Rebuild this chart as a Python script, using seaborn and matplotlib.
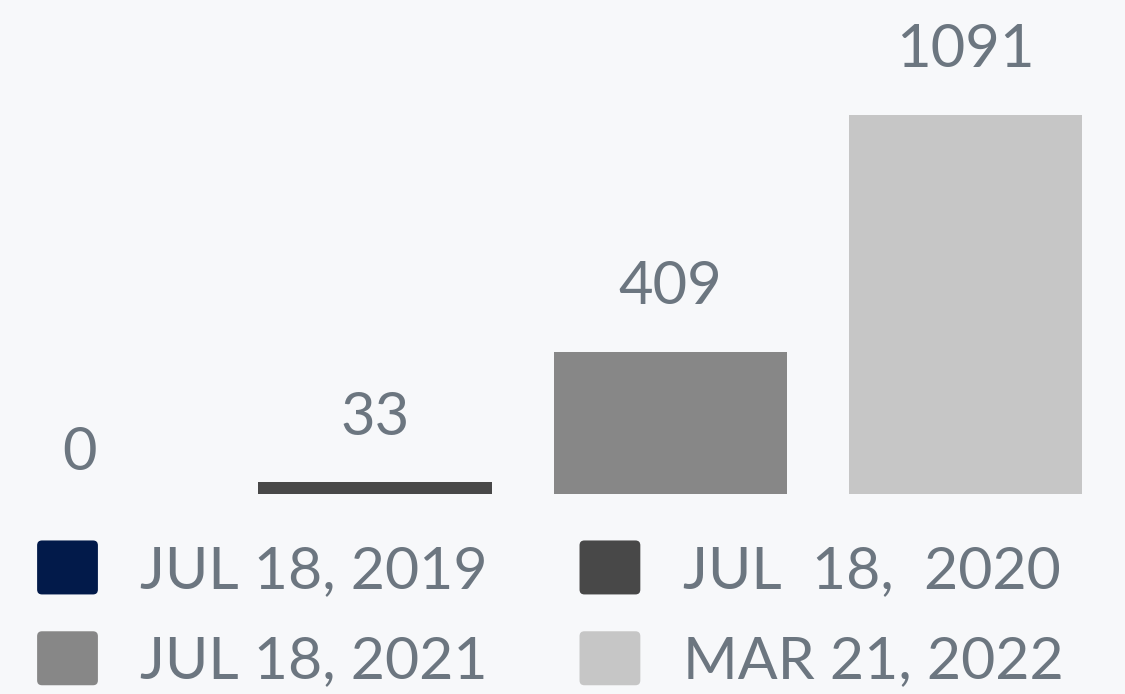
import matplotlib.pyplot as plt
import pandas as pd
import seaborn as sns
from matplotlib.legend_handler import HandlerPatch
from matplotlib.patches import FancyBboxPatch, Patch

dates = ["JUL 18, 2019", "JUL 18, 2020", "JUL 18, 2021", "MAR 21, 2022"]
legend_labels = ["JUL 18, 2019", "JUL  18,  2020", "JUL 18, 2021", "MAR 21, 2022"]
counts = [0, 33, 409, 1091]
bar_colors = ["#021a4a", "#484848", "#878787", "#c6c6c6"]

BG = "#f7f8fa"
TEXT = "#6c7680"


class RoundSquare(HandlerPatch):
    def create_artists(self, legend, orig_handle, xdescent, ydescent,
                       width, height, fontsize, trans):
        box = FancyBboxPatch(
            (-xdescent, -ydescent), width, height,
            boxstyle="round,pad=0,rounding_size=3.5",
            facecolor=orig_handle.get_facecolor(), edgecolor="none",
            transform=trans,
        )
        return [box]


sns.set_theme(style="white")
plt.rcParams["font.family"] = ["Lato", "DejaVu Sans"]

df = pd.DataFrame({"date": dates, "count": counts})

fig = plt.figure(figsize=(11.25, 6.94), dpi=100, facecolor=BG)
ax = fig.add_axes([0, 0, 1, 1])
ax.set_facecolor(BG)

sns.barplot(
    data=df, x="date", y="count", hue="date",
    palette=dict(zip(dates, bar_colors)), width=0.79,
    saturation=1, legend=False, linewidth=0, ax=ax,
)

for container, value in zip(ax.containers, counts):
    pad = 10 if value == 0 else 27
    ax.bar_label(container, labels=[f"{value}"], padding=pad,
                 fontsize=43, color=TEXT)

ax.set_xlim(-0.27, 3.54)
ax.set_ylim(-576, 1422)
ax.set_axis_off()

# legend reads row by row, matplotlib fills column by column
order = [0, 2, 1, 3]
handles = [Patch(facecolor=bar_colors[i]) for i in order]
labels = [legend_labels[i] for i in order]
ax.legend(
    handles, labels, ncol=2, loc="lower left",
    bbox_to_anchor=(0.012, -0.026), frameon=False,
    fontsize=42.5, labelcolor=TEXT,
    handler_map={Patch: RoundSquare()},
    handlelength=1.03, handleheight=1.03, handletextpad=0.72,
    columnspacing=1.55, labelspacing=0.57, borderaxespad=0,
)

fig.savefig("out.png", dpi=100, facecolor=BG)
